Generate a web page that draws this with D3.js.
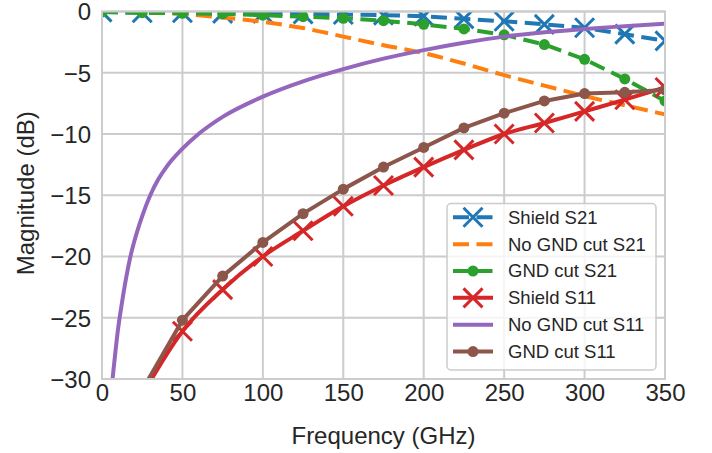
<!DOCTYPE html>
<html>
<head>
<meta charset="utf-8">
<script src="https://cdn.jsdelivr.net/npm/d3@7"></script>
<style>
  html, body { margin: 0; padding: 0; background: #fff; }
  svg { display: block; }
  text { font-family: "Liberation Sans", Arial, Helvetica, sans-serif; fill: #262626; }
</style>
</head>
<body>
<svg id="chart" width="712" height="453"></svg>
<script>
// ---------- data ----------
const freqs = [0, 25, 50, 75, 100, 125, 150, 175, 200, 225, 250, 275, 300, 325, 350];
const freqsS11 = [25, 50, 75, 100, 125, 150, 175, 200, 225, 250, 275, 300, 325, 350];

const shieldS21   = [-0.05, -0.1, -0.1, -0.15, -0.15, -0.2, -0.25, -0.3, -0.38, -0.6, -0.8, -1.05, -1.33, -1.85, -2.4];
const noGndCutS21 = [0, -0.05, -0.2, -0.5, -0.85, -1.35, -2.05, -2.75, -3.4, -4.25, -5.2, -6.05, -6.9, -7.65, -8.4];
const gndCutS21   = [-0.05, -0.1, -0.15, -0.2, -0.3, -0.42, -0.55, -0.75, -1.05, -1.42, -1.9, -2.7, -3.9, -5.5, -7.3];
const shieldS11   = [-31.3, -26.1, -22.7, -20.0, -17.9, -15.9, -14.2, -12.7, -11.3, -10.0, -9.1, -8.15, -7.2, -6.2];
const gndCutS11   = [-30.9, -25.2, -21.6, -18.85, -16.5, -14.5, -12.7, -11.1, -9.5, -8.3, -7.3, -6.7, -6.6, -6.4];

const freqsNoGndS11 = [5, 6.25, 8, 10, 12.5, 15, 17.5, 20, 25, 30, 35, 40, 50, 60, 75, 100, 125, 150, 175, 200, 225, 250, 275, 300, 325, 350];
const noGndCutS11   = [-32.8, -30.5, -28.2, -25.9, -23.7, -21.75, -20.1, -18.8, -16.7, -15.0, -13.7, -12.7, -11.2, -10.0, -8.6, -6.95, -5.7, -4.7, -3.85, -3.15, -2.55, -2.05, -1.7, -1.42, -1.2, -1.0];

const xTicks = [0, 50, 100, 150, 200, 250, 300, 350];
const yTicks = [0, -5, -10, -15, -20, -25, -30];

const seriesNames  = ["Shield S21", "No GND cut S21", "GND cut S21", "Shield S11", "No GND cut S11", "GND cut S11"];
const seriesColors = ["#1f77b4", "#ff7f0e", "#2ca02c", "#d62728", "#9467bd", "#8c564b"];

// ---------- layout ----------
const svg = d3.select("#chart");
const pLeft = 102, pRight = 665, pTop = 11.5, pBottom = 379;

const x = d3.scaleLinear().domain([0, 350]).range([pLeft, pRight]);
const y = d3.scaleLinear().domain([-30, 0]).range([pBottom, pTop]);

svg.append("defs").append("clipPath").attr("id", "plotclip")
  .append("rect").attr("x", pLeft).attr("y", pTop).attr("width", pRight - pLeft).attr("height", pBottom - pTop);

// grid
const grid = svg.append("g");
grid.selectAll(".gx").data(xTicks).join("line")
  .attr("x1", d => x(d)).attr("x2", d => x(d)).attr("y1", pTop).attr("y2", pBottom)
  .attr("stroke", "#cccccc").attr("stroke-width", 2);
grid.selectAll(".gy").data(yTicks).join("line")
  .attr("y1", d => y(d)).attr("y2", d => y(d)).attr("x1", pLeft).attr("x2", pRight)
  .attr("stroke", "#cccccc").attr("stroke-width", 2);

// axes via d3 axis (labels only, styled)
const xAxis = svg.append("g").attr("transform", `translate(0,${pBottom})`)
  .call(d3.axisBottom(x).tickValues(xTicks).tickSize(0).tickPadding(0).tickFormat(d3.format("d")));
xAxis.select(".domain").remove();
xAxis.selectAll("text").attr("dy", null).attr("y", 22).attr("font-size", 24)
  .style("font-family", '"Liberation Sans", Arial, sans-serif').attr("fill", "#262626");

const fmtMinus = d => (d < 0 ? "\u2212" + Math.abs(d) : String(d));
const yAxis = svg.append("g").attr("transform", `translate(${pLeft},0)`)
  .call(d3.axisLeft(y).tickValues(yTicks).tickSize(0).tickPadding(11).tickFormat(fmtMinus));
yAxis.select(".domain").remove();
yAxis.selectAll("text").attr("font-size", 24).attr("dy", "0.35em")
  .style("font-family", '"Liberation Sans", Arial, sans-serif').attr("fill", "#262626");

// axis titles
svg.append("text").attr("x", (pLeft + pRight) / 2).attr("y", 444)
  .attr("text-anchor", "middle").attr("font-size", 24).text("Frequency (GHz)");
svg.append("text").attr("transform", `translate(34,${(pTop + pBottom) / 2 - 2}) rotate(-90)`)
  .attr("text-anchor", "middle").attr("font-size", 24).text("Magnitude (dB)");

// ---------- series ----------
const plot = svg.append("g").attr("clip-path", "url(#plotclip)");
const dash = "16,7.5";
const lw = 4;

function drawLine(xs, ys, color, dashed, curve) {
  const pts = xs.map((f, i) => [f, ys[i]]);
  plot.append("path").datum(pts)
    .attr("fill", "none").attr("stroke", color).attr("stroke-width", lw)
    .attr("stroke-dasharray", dashed ? dash : null)
    .attr("stroke-linejoin", "round")
    .attr("d", d3.line().x(d => x(d[0])).y(d => y(d[1])).curve(curve || d3.curveLinear));
  return pts;
}
function drawX(g, cx, cy, color, s) {
  g.append("path")
    .attr("d", `M${cx - s},${cy - s}L${cx + s},${cy + s}M${cx - s},${cy + s}L${cx + s},${cy - s}`)
    .attr("stroke", color).attr("stroke-width", 3).attr("fill", "none");
}
function drawDot(g, cx, cy, color, r) {
  g.append("circle").attr("cx", cx).attr("cy", cy).attr("r", r).attr("fill", color);
}

// Shield S21
let p = drawLine(freqs, shieldS21, seriesColors[0], true);
p.forEach(d => drawX(plot, x(d[0]), y(d[1]), seriesColors[0], 9.5));
// No GND cut S21
drawLine(freqs, noGndCutS21, seriesColors[1], true, d3.curveMonotoneX);
// GND cut S21
p = drawLine(freqs, gndCutS21, seriesColors[2], true);
p.forEach(d => drawDot(plot, x(d[0]), y(d[1]), seriesColors[2], 5.5));
// Shield S11
p = drawLine(freqsS11, shieldS11, seriesColors[3], false, d3.curveMonotoneX);
p.forEach(d => drawX(plot, x(d[0]), y(d[1]), seriesColors[3], 9.5));
// No GND cut S11
drawLine(freqsNoGndS11, noGndCutS11, seriesColors[4], false, d3.curveMonotoneX);
// GND cut S11
p = drawLine(freqsS11, gndCutS11, seriesColors[5], false);
p.forEach(d => drawDot(plot, x(d[0]), y(d[1]), seriesColors[5], 5.5));

// frame (spines)
svg.append("rect").attr("x", pLeft).attr("y", pTop).attr("width", pRight - pLeft).attr("height", pBottom - pTop)
  .attr("fill", "none").attr("stroke", "#cccccc").attr("stroke-width", 2);

// ---------- legend ----------
const lg = svg.append("g");
lg.append("rect").attr("x", 447).attr("y", 203.5).attr("width", 209).attr("height", 166.5)
  .attr("rx", 4).attr("fill", "#ffffff").attr("fill-opacity", 0.8)
  .attr("stroke", "#cccccc").attr("stroke-width", 1.5);
const markers = ["x", null, "o", "x", null, "o"];
const dashed = [true, true, true, false, false, false];
seriesNames.forEach((name, i) => {
  const cy = 217.3 + i * 26.85;
  lg.append("line").attr("x1", 453).attr("x2", 493).attr("y1", cy).attr("y2", cy)
    .attr("stroke", seriesColors[i]).attr("stroke-width", lw)
    .attr("stroke-dasharray", dashed[i] ? dash : null);
  if (markers[i] === "x") drawX(lg, 473, cy, seriesColors[i], 9.5);
  if (markers[i] === "o") drawDot(lg, 473, cy, seriesColors[i], 5.5);
  lg.append("text").attr("x", 508).attr("y", cy).attr("dy", "0.35em")
    .attr("font-size", 18.5).text(name);
});
</script>
</body>
</html>
